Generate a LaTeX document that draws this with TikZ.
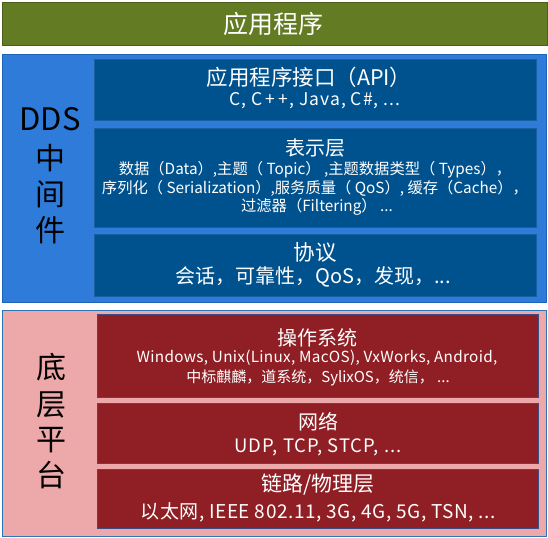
\documentclass[tikz,border=0pt]{standalone}
\usepackage{fontspec}
\setmainfont{Noto Sans CJK SC}
\definecolor{appgreen}{HTML}{637C24}
\definecolor{appgreenedge}{HTML}{4B5E1B}
\definecolor{ddsblue}{HTML}{2F7BDA}
\definecolor{ddsedge}{HTML}{1E64B8}
\definecolor{layerblue}{HTML}{00528F}
\definecolor{layerblueedge}{HTML}{1A5FA0}
\definecolor{platpink}{HTML}{EDA8A9}
\definecolor{platedge}{HTML}{2E75B6}
\definecolor{platred}{HTML}{8F1F24}
\definecolor{platrededge}{HTML}{3F4C86}
\newcommand{\fs}[1]{\fontsize{#1bp}{#1bp}\selectfont}
\newcommand{\ls}[1]{\addfontfeature{LetterSpace=#1}}
\tikzset{
  panel/.style={draw, line width=1bp, inner sep=0pt, anchor=north west},
  layer/.style={draw, line width=0.8bp, inner sep=0pt, anchor=north west},
  wtxt/.style={text=white, inner sep=0pt, anchor=center},
  ktxt/.style={text=black, inner sep=0pt, anchor=center},
}
\begin{document}
\begin{tikzpicture}[x=1bp,y=-1bp]
\useasboundingbox (0,0) rectangle (548,538);
% application
\node[panel, fill=appgreen, draw=appgreenedge, minimum width=545bp, minimum height=43.5bp] (app) at (1.5,2) {};
\node[wtxt] (apptxt) at (273,24) {\fs{25}应用程序};
% DDS middleware
\node[panel, fill=ddsblue, draw=ddsedge, minimum width=544.5bp, minimum height=248bp] (dds) at (1.5,54) {};
\node[layer, fill=layerblue, draw=layerblueedge, minimum width=442bp, minimum height=61bp] (api) at (94,59) {};
\node[layer, fill=layerblue, draw=layerblueedge, minimum width=442bp, minimum height=99bp] (pres) at (94,128) {};
\node[layer, fill=layerblue, draw=layerblueedge, minimum width=442bp, minimum height=62bp] (proto) at (94,234) {};
\node[ktxt] (ddsA) at (50,119) {\fs{31}DDS};
\node[ktxt] (ddsB) at (50,158) {\fs{30}中};
\node[ktxt] (ddsC) at (50,194) {\fs{30}间};
\node[ktxt] (ddsD) at (50,230) {\fs{30}件};
\node[wtxt] (apiA) at (309,77) {\fs{21.5}应用程序接口（API）};
\node[wtxt] (apiB) at (315,101) {\fs{17.5}\ls{6}C, C\,+\,+, Java, C\#, ...};
\node[wtxt] (presA) at (315,148) {\fs{20}表示层};
\node[wtxt] (presB) at (315,170) {\fs{15.3}数据（Data）,主题（ Topic） ,主题数据类型（ Types），};
\node[wtxt] (presC) at (315,188.5) {\fs{15.3}序列化（ Serialization）,服务质量（ QoS）, 缓存（Cache），};
\node[wtxt] (presD) at (317,207) {\fs{15.3}过滤器（Filtering） ...};
\node[wtxt] (protoA) at (315,252) {\fs{21.5}协议};
\node[wtxt] (protoB) at (313,277) {\fs{20}会话，可靠性，QoS，发现，...};
% platform
\node[panel, fill=platpink, draw=platedge, minimum width=544.5bp, minimum height=226bp] (plat) at (1.5,310) {};
\node[layer, fill=platred, draw=platrededge, minimum width=441bp, minimum height=83bp] (os) at (97,314) {};
\node[layer, fill=platred, draw=platrededge, minimum width=441bp, minimum height=60bp] (net) at (97,403) {};
\node[layer, fill=platred, draw=platrededge, minimum width=441bp, minimum height=59bp] (link) at (97,469) {};
\node[ktxt] (platA) at (51,367) {\fs{30}底};
\node[ktxt] (platB) at (51,405) {\fs{30}层};
\node[ktxt] (platC) at (51,440) {\fs{30}平};
\node[ktxt] (platD) at (51,475) {\fs{30}台};
\node[wtxt] (osA) at (317,338) {\fs{20}操作系统};
\node[wtxt] (osB) at (317,358) {\fs{15.3}\ls{2}Windows, Unix(Linux, MacOS), VxWorks, Android,};
\node[wtxt] (osC) at (318,377.5) {\fs{15}中标麒麟，道系统，SylixOS，统信， ...};
\node[wtxt] (netA) at (318,422) {\fs{20}网络};
\node[wtxt] (netB) at (318,447) {\fs{18.5}\ls{5}UDP, TCP, STCP, ...};
\node[wtxt] (linkA) at (318,485) {\fs{21}链路/物理层};
\node[wtxt] (linkB) at (318,512) {\fs{19}\ls{3}以太网, IEEE 802.11, 3G, 4G, 5G, TSN, ...};
\end{tikzpicture}
\end{document}
